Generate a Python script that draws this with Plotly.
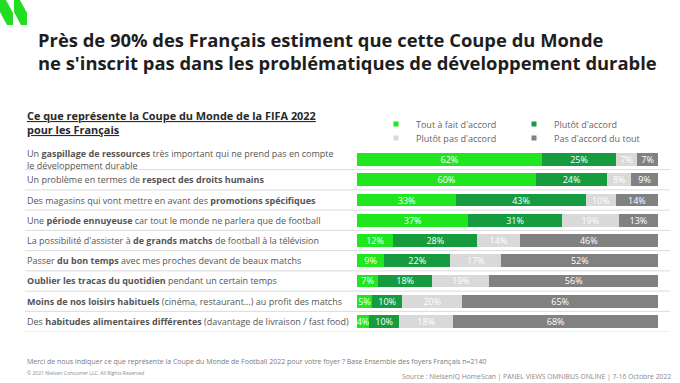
import plotly.graph_objects as go

W, H = 680, 383

categories = [
    "Un <b>gaspillage de ressources</b> très important qui ne prend pas en compte<br>le développement durable",
    "Un problème en termes de <b>respect des droits humains</b>",
    "Des magasins qui vont mettre en avant des <b>promotions spécifiques</b>",
    "Une <b>période ennuyeuse</b> car tout le monde ne parlera que de football",
    "La possibilité d'assister à <b>de grands matchs</b> de football à la télévision",
    "Passer <b>du bon temps</b> avec mes proches devant de beaux matchs",
    "<b>Oublier les tracas du quotidien</b> pendant un certain temps",
    "<b>Moins de nos loisirs habituels</b> (cinéma, restaurant…) au profit des matchs",
    "Des <b>habitudes alimentaires différentes</b> (davantage de livraison / fast food)",
]

series_names = ["Tout à fait d'accord", "Plutôt d'accord", "Plutôt pas d'accord", "Pas d'accord du tout"]
tout_a_fait = [62, 60, 33, 37, 12, 9, 7, 5, 4]
plutot = [25, 24, 43, 31, 28, 22, 18, 10, 10]
plutot_pas = [7, 8, 10, 19, 14, 17, 19, 20, 18]
pas_du_tout = [7, 9, 14, 13, 46, 52, 56, 65, 68]
series_values = [tout_a_fait, plutot, plutot_pas, pas_du_tout]
colors = ["#20e620", "#169c3e", "#d9d9d9", "#818181"]

title_lines = ["Près de 90% des Français estiment que cette Coupe du Monde",
               "ne s'inscrit pas dans les problématiques de développement durable"]
subtitle_lines = ["Ce que représente la Coupe du Monde de la FIFA 2022", "pour les Français"]
note = ("Merci de nous indiquer ce que représente la Coupe du Monde de Football 2022 pour votre foyer ? "
        "Base Ensemble des foyers Français n=2140")
copyright_txt = "© 2021 Nielsen Consumer LLC. All Rights Reserved"
source = "Source : NielsenIQ HomeScan | PANEL VIEWS OMNIBUS ONLINE | 7-16 Octobre 2022"

FONT = "Open Sans"


def px(x):
    return x / W


def py(y):
    return 1 - y / H


fig = go.Figure()
for name, vals, col in zip(series_names, series_values, colors):
    fig.add_trace(go.Bar(
        y=categories, x=vals, orientation="h", name=name,
        marker=dict(color=col, line=dict(width=0)),
        text=[f"{v}%" for v in vals], textposition="inside",
        insidetextanchor="middle", textangle=0,
        constraintext="none",
        textfont=dict(family=FONT, size=9, color="white"),
        showlegend=False, hoverinfo="name+x",
    ))

# legend entries (small square markers)
for i, (name, col) in enumerate(zip(series_names, colors)):
    fig.add_trace(go.Scatter(
        x=[None], y=[None], mode="markers", name=name,
        marker=dict(symbol="square", size=5, color=col),
        legend="legend" if i < 2 else "legend2",
        showlegend=True,
    ))

legend_common = dict(
    orientation="h", xanchor="left", yanchor="middle", traceorder="normal",
    font=dict(family=FONT, size=9, color="#666666"),
    bgcolor="rgba(0,0,0,0)", entrywidth=93, entrywidthmode="pixels",
    itemwidth=30, tracegroupgap=0,
)

# row separator lines
shapes = []
for i in range(len(categories)):
    shapes.append(dict(type="line", xref="paper", yref="y",
                       x0=px(25), x1=px(670), y0=i + 0.5, y1=i + 0.5,
                       line=dict(color="#dcdcdc", width=1), layer="below"))

# logo (two green slanted strokes)
for dx in (0, 14):
    path = (f"M {px(0+dx)} {py(0)} L {px(6+dx)} {py(0)} L {px(13+dx)} {py(13)} "
            f"L {px(13+dx)} {py(25)} L {px(7+dx)} {py(25)} L {px(0+dx)} {py(12)} Z")
    shapes.append(dict(type="path", xref="paper", yref="paper", path=path,
                       fillcolor="#22dd22", line=dict(width=0)))

annotations = []
for cat in categories:
    annotations.append(dict(
        x=px(25), xref="paper", y=cat, yref="y", xanchor="left", yanchor="middle",
        text=cat, showarrow=False, align="left",
        font=dict(family=FONT, size=9, color="#555555"),
    ))

for line, yy in zip(title_lines, (40, 62)):
    annotations.append(dict(
        x=px(36), y=py(yy), xref="paper", yref="paper", xanchor="left", yanchor="middle",
        text=f"<b>{line}</b>", showarrow=False, align="left",
        font=dict(family=FONT, size=18.4, color="#1e1e1e")))

for line, yy in zip(subtitle_lines, (116, 129)):
    annotations.append(dict(
        x=px(25), y=py(yy), xref="paper", yref="paper", xanchor="left", yanchor="middle",
        text=f"<b><u>{line}</u></b>", showarrow=False, align="left",
        font=dict(family=FONT, size=10.9, color="#2a2a2a")))

annotations += [
    dict(x=px(25), y=py(361.5), xref="paper", yref="paper", xanchor="left", yanchor="middle",
         text=note, showarrow=False, align="left",
         font=dict(family=FONT, size=7, color="#7a7a7a")),
    dict(x=px(25), y=py(373), xref="paper", yref="paper", xanchor="left", yanchor="middle",
         text=copyright_txt, showarrow=False, align="left",
         font=dict(family=FONT, size=5, color="#8a8a8a")),
    dict(x=px(673), y=py(376), xref="paper", yref="paper", xanchor="right", yanchor="middle",
         text=source, showarrow=False, align="right",
         font=dict(family=FONT, size=6.8, color="#8a8a8a")),
]

n = len(categories)
fig.update_layout(
    width=W, height=H,
    margin=dict(l=0, r=0, t=0, b=0),
    paper_bgcolor="white", plot_bgcolor="rgba(0,0,0,0)",
    barmode="stack", barnorm="percent", bargap=0.36,
    uniformtext=dict(mode="show", minsize=9),
    xaxis=dict(domain=[px(357), px(658)], range=[0, 100], visible=False, fixedrange=True),
    yaxis=dict(domain=[py(331.6), py(149.4)], type="category",
               categoryorder="array", categoryarray=categories,
               range=[n - 0.5, -0.5], visible=False, fixedrange=True),
    legend=dict(x=px(376), y=py(124), **legend_common),
    legend2=dict(x=px(376), y=py(138), **legend_common),
    shapes=shapes,
    annotations=annotations,
    font=dict(family=FONT),
)

fig.write_html("out.html", config={"displayModeBar": False},
               post_script="document.body.style.margin='0';document.body.style.overflow='hidden';")
